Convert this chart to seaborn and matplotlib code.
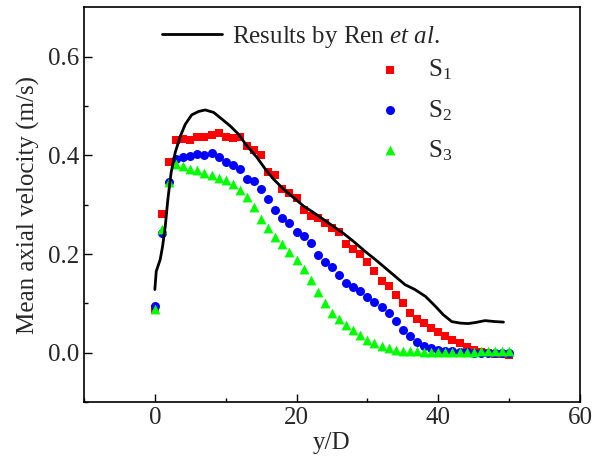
import numpy as np
import pandas as pd
import seaborn as sns
import matplotlib.pyplot as plt

# ---- data ----
yd = np.arange(0, 51)

s1 = [0.088, 0.282, 0.387, 0.432, 0.434, 0.431, 0.438, 0.438, 0.441, 0.446,
      0.438, 0.436, 0.438, 0.418, 0.410, 0.400, 0.367, 0.361, 0.332, 0.323,
      0.314, 0.290, 0.278, 0.273, 0.263, 0.253, 0.245, 0.221, 0.211, 0.201,
      0.183, 0.166, 0.146, 0.135, 0.117, 0.100, 0.080, 0.068, 0.060, 0.050,
      0.041, 0.033, 0.025, 0.019, 0.012, 0.006, 0.002, 0.000, -0.002, -0.003,
      -0.005]

s2 = [0.094, 0.242, 0.345, 0.392, 0.397, 0.399, 0.402, 0.400, 0.404, 0.396,
      0.387, 0.381, 0.372, 0.353, 0.347, 0.332, 0.312, 0.289, 0.273, 0.263,
      0.244, 0.236, 0.223, 0.199, 0.184, 0.173, 0.157, 0.142, 0.134, 0.126,
      0.112, 0.102, 0.093, 0.081, 0.065, 0.046, 0.033, 0.022, 0.014, 0.009,
      0.006, 0.004, 0.003, 0.002, 0.001, 0.000, 0.000, -0.001, -0.001, -0.001,
      -0.001]

s3 = [0.088, 0.250, 0.345, 0.382, 0.378, 0.373, 0.370, 0.364, 0.361, 0.355,
      0.350, 0.341, 0.330, 0.315, 0.296, 0.270, 0.252, 0.235, 0.221, 0.204,
      0.187, 0.170, 0.147, 0.124, 0.100, 0.080, 0.068, 0.056, 0.046, 0.035,
      0.026, 0.019, 0.014, 0.009, 0.006, 0.004, 0.003, 0.003, 0.002, 0.002,
      0.002, 0.002, 0.002, 0.002, 0.002, 0.002, 0.003, 0.003, 0.003, 0.003,
      0.003]

ren_x = [0.0, 0.2, 0.76, 1.1, 1.47, 1.84, 2.3, 2.88, 3.6, 4.3, 5.2, 6.2, 7.1,
         8.3, 9.5, 10.6, 11.8, 13.0, 14.4, 15.6, 16.8, 18.2, 19.6, 21.0, 22.4,
         23.8, 25.2, 26.6, 28.0, 29.7, 31.1, 32.5, 33.9, 35.3, 36.7, 38.2,
         39.6, 40.7, 41.9, 43.1, 44.2, 45.2, 46.6, 48.0, 49.2]
ren_y = [0.128, 0.165, 0.189, 0.216, 0.256, 0.311, 0.365, 0.406, 0.439, 0.463,
         0.482, 0.489, 0.492, 0.487, 0.473, 0.460, 0.443, 0.419, 0.396, 0.372,
         0.351, 0.331, 0.314, 0.297, 0.284, 0.270, 0.256, 0.242, 0.226, 0.205,
         0.189, 0.172, 0.155, 0.138, 0.128, 0.114, 0.094, 0.077, 0.063, 0.060,
         0.059, 0.061, 0.065, 0.063, 0.062]

sns.set_style("ticks")
plt.rcParams['font.family'] = ['Liberation Serif', 'DejaVu Serif']
plt.rcParams['mathtext.fontset'] = 'custom'
plt.rcParams['mathtext.rm'] = 'Liberation Serif'
plt.rcParams['mathtext.it'] = 'Liberation Serif:italic'
plt.rcParams['xtick.direction'] = 'in'
plt.rcParams['ytick.direction'] = 'in'

fig = plt.figure(figsize=(5.96, 4.63), dpi=100)
ax = fig.add_axes([0.1409, 0.1317, 0.8322, 0.8525])

sns.lineplot(x=ren_x, y=ren_y, ax=ax, color='black', linewidth=2,
             label='Results by Ren $\\it{et\\ al.}$')
sns.scatterplot(x=yd, y=s1, ax=ax, marker='s', s=34, color='#ff0000',
                linewidth=0, label='S$_1$')
sns.scatterplot(x=yd, y=s2, ax=ax, marker='o', s=42, color='#0000ff',
                linewidth=0, label='S$_2$')
sns.scatterplot(x=yd, y=s3, ax=ax, marker='^', s=50, color='#00ff00',
                linewidth=0, label='S$_3$')

ax.set_xlim(-10, 60)
ax.set_ylim(-0.1, 0.7)
ax.set_xticks([0, 20, 40, 60])
ax.set_xticks([-10, 10, 30, 50], minor=True)
ax.set_yticks([0.0, 0.2, 0.4, 0.6])
ax.set_yticks([-0.1, 0.1, 0.3, 0.5], minor=True)
ax.set_yticklabels(['0.0', '0.2', '0.4', '0.6'])
ax.tick_params(which='major', length=5.5, width=1, labelsize=18, color='black')
ax.tick_params(which='minor', length=3, width=1, color='black')
for sp in ax.spines.values():
    sp.set_visible(True)
    sp.set_color('black')
    sp.set_linewidth(1.2)

ax.set_xlabel('y/D', fontsize=18, labelpad=2)
ax.set_ylabel('Mean axial velocity (m/s)', fontsize=18, labelpad=6)

handles, labels = ax.get_legend_handles_labels()
leg1 = ax.legend(handles[:1], labels[:1], loc='center left',
                 bbox_to_anchor=(0.157, 0.925), frameon=False, fontsize=18,
                 handlelength=2.4, handletextpad=0.4, borderpad=0,
                 borderaxespad=0)
ax.add_artist(leg1)
ax.legend(handles[1:], labels[1:], loc='upper left',
          bbox_to_anchor=(0.592, 0.872), frameon=False, fontsize=18,
          handlelength=1.0, handletextpad=1.0, borderpad=0, borderaxespad=0,
          labelspacing=0.62, markerscale=1.0)

fig.savefig('out.png', dpi=100)
